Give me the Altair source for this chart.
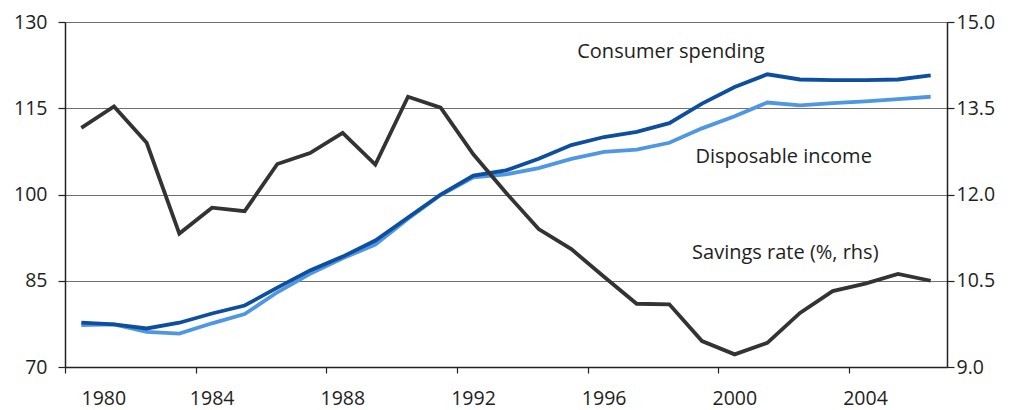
import altair as alt
import pandas as pd

years = list(range(1980, 2007))
consumer_spending = [77.7, 77.4, 76.7, 77.7, 79.3, 80.7, 83.8, 86.8, 89.2, 92.0,
                     96.0, 100.0, 103.3, 104.2, 106.2, 108.6, 110.0, 110.9, 112.4, 115.8,
                     118.7, 120.9, 120.0, 119.9, 119.9, 120.0, 120.7]
disposable_income = [77.3, 77.4, 76.1, 75.8, 77.6, 79.2, 83.0, 86.2, 88.9, 91.3,
                     95.8, 99.9, 103.0, 103.5, 104.6, 106.2, 107.4, 107.8, 109.0, 111.5,
                     113.6, 116.0, 115.5, 115.9, 116.2, 116.6, 117.0]
savings_rate = [13.16, 13.53, 12.90, 11.32, 11.77, 11.71, 12.53, 12.72, 13.07, 12.52,
                13.70, 13.51, 12.70, 12.03, 11.40, 11.05, 10.57, 10.10, 10.09, 9.45,
                9.22, 9.42, 9.94, 10.32, 10.45, 10.62, 10.50]

left_ticks = [70, 85, 100, 115, 130]
right_ticks = [9.0, 10.5, 12.0, 13.5, 15.0]
x_ticks = [1980, 1984, 1988, 1992, 1996, 2000, 2004]

label_texts = ["Consumer spending", "Disposable income", "Savings rate (%, rhs)"]
label_x = [1998.55, 2002.0, 2002.05]
label_y = [123.8, 105.4, 88.7]

FONT = "Open Sans"
FS = 19.5
DARK = "#0d4f9e"
LIGHT = "#4f97e3"
BLACK = "#333333"

df_left = pd.DataFrame({
    "x": [y + 0.5 for y in years] * 2,
    "value": disposable_income + consumer_spending,
    "series": ["Disposable income"] * len(years) + ["Consumer spending"] * len(years),
    "order": [0] * len(years) + [1] * len(years),
})
df_right = pd.DataFrame({"x": [y + 0.5 for y in years], "value": savings_rate})
df_text = pd.DataFrame({"x": label_x, "y": label_y, "text": label_texts})

x_scale = alt.Scale(domain=[1980, 2007], nice=False, zero=False)
x_axis = alt.Axis(values=x_ticks, format="d", title=None, grid=False,
                  labelOffset=16, tickSize=6, labelPadding=16,
                  labelFontSize=FS, labelFont=FONT, labelColor="#1e1e1e",
                  domainColor="#222222", tickColor="#222222", domainWidth=1.5,
                  tickWidth=1.2)

left_scale = alt.Scale(domain=[70, 130], nice=False, zero=False)
left_axis = alt.Axis(values=left_ticks, title=None, orient="left", grid=True,
                     gridColor="#707070", gridWidth=1.2, gridOpacity=1,
                     tickSize=7, labelPadding=11, labelFontSize=FS, labelFont=FONT,
                     labelColor="#1e1e1e", domainColor="#222222", domainWidth=1.5,
                     tickColor="#222222", tickWidth=1.2)

lines_left = alt.Chart(df_left).mark_line(strokeWidth=3.8).encode(
    x=alt.X("x:Q", scale=x_scale, axis=x_axis),
    y=alt.Y("value:Q", scale=left_scale, axis=left_axis),
    color=alt.Color("series:N",
                    scale=alt.Scale(domain=["Disposable income", "Consumer spending"],
                                    range=[LIGHT, DARK]),
                    legend=None),
    order=alt.Order("order:Q"),
)

texts = alt.Chart(df_text).mark_text(
    font=FONT, fontSize=20, color="#1e1e1e", align="center", baseline="alphabetic"
).encode(
    x=alt.X("x:Q", scale=x_scale),
    y=alt.Y("y:Q", scale=left_scale),
    text="text:N",
)

left_layer = alt.layer(lines_left, texts)

right_axis = alt.Axis(values=right_ticks, title=None, orient="right", grid=False,
                      format=".1f", tickSize=7, labelPadding=2, labelFontSize=FS,
                      labelFont=FONT, labelColor="#1e1e1e", domainColor="#222222",
                      domainWidth=1.5, tickColor="#222222", tickWidth=1.2)

line_right = alt.Chart(df_right).mark_line(strokeWidth=3.8, color=BLACK).encode(
    x=alt.X("x:Q", scale=x_scale, axis=x_axis),
    y=alt.Y("value:Q", scale=alt.Scale(domain=[9, 15], nice=False, zero=False),
            axis=right_axis),
)

chart = alt.layer(left_layer, line_right).resolve_scale(y="independent").properties(
    width=882, height=345,
    padding={"left": 57, "top": 14, "right": 60, "bottom": 45},
    autosize=alt.AutoSizeParams(type="none"),
).configure_view(stroke=None).configure(background="white")

chart.save("out.html", embed_options={"renderer": "svg", "actions": False})
